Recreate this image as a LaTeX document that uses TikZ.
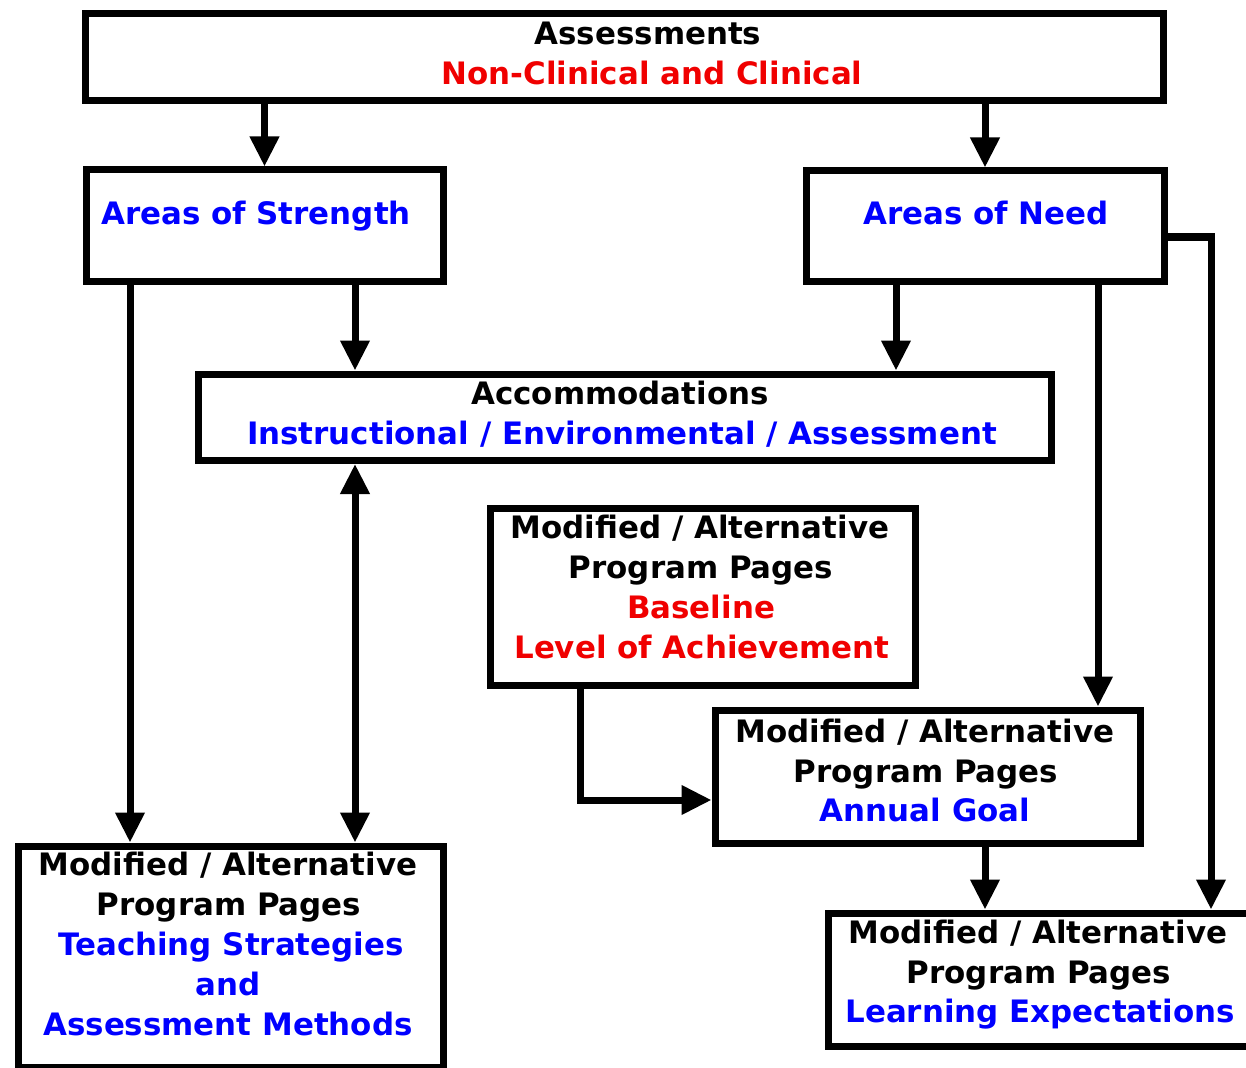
\documentclass[tikz,border=0pt]{standalone}
\usepackage{fontspec}
\setmainfont{DejaVu Sans}
\usetikzlibrary{arrows.meta}
\definecolor{tblue}{RGB}{0,0,255}
\definecolor{tred}{RGB}{240,0,0}
\begin{document}
\begin{tikzpicture}[x=1pt,y=-1pt,
  box/.style={draw, line width=7pt, inner sep=0pt, fill=white},
  txt/.style={anchor=base, inner sep=0pt, font=\fontsize{30.9}{40}\selectfont\bfseries},
  arr/.style={line width=7pt, -{Triangle[width=28pt,length=30pt]}},
  darr/.style={line width=7pt, {Triangle[width=28pt,length=30pt]}-{Triangle[width=28pt,length=30pt]}}]
\useasboundingbox (0,0) rectangle (1246,1067);
\fill[white] (0,0) rectangle (1246,1067);
\clip (0,0) rectangle (1246,1067);

% boxes
\node[box, minimum width=1077.5pt, minimum height=87pt] (A) at (624.25,57) {};
\node[box, minimum width=357pt, minimum height=111pt] (S) at (264.5,225.5) {};
\node[box, minimum width=358pt, minimum height=110pt] (N) at (985,226) {};
\node[box, minimum width=853.5pt, minimum height=86.5pt] (C) at (624.75,417.25) {};
\node[box, minimum width=425pt, minimum height=177pt] (B) at (702.5,596.5) {};
\node[box, minimum width=425pt, minimum height=133pt] (G) at (927.5,776.5) {};
\node[box, minimum width=425pt, minimum height=221pt] (T) at (230.5,956.5) {};
\node[box, minimum width=434pt, minimum height=133pt] (L) at (1045,979.5) {};

% helper coordinates
\coordinate (xS) at (355,0);
\coordinate (xT) at (130,0);
\coordinate (xN) at (896,0);
\coordinate (xG) at (1098,0);
\coordinate (nR) at (1211,237);
\coordinate (bk) at (580,800);
\coordinate (xL) at (985,0);

% connectors
\draw[arr] (S.north |- A.south) -- (S.north);
\draw[arr] (N.north |- A.south) -- (N.north);
\draw[arr] (S.south -| xS) -- (C.north -| xS);
\draw[arr] (N.south -| xN) -- (C.north -| xN);
\draw[arr] (S.south -| xT) -- (T.north -| xT);
\draw[darr] (C.south -| xS) -- (T.north -| xS);
\draw[arr] (N.south -| xG) -- (G.north -| xG);
\draw[arr] (N.east |- nR) -- (nR) -- (L.north -| nR);
\draw[arr] (B.south -| bk) -- (bk) -- (G.west |- bk);
\draw[arr] (G.south -| xL) -- (L.north -| xL);

% texts
\node[txt] (tA1) at (648,45) {Assessments};
\node[txt, text=tred] (tA2) at (652,85) {Non-Clinical and Clinical};
\node[txt, text=tblue] (tS) at (256,225) {Areas of Strength};
\node[txt, text=tblue] (tN) at (986,225) {Areas of Need};
\node[txt] (tC1) at (620,404) {Accommodations};
\node[txt, text=tblue] (tC2) at (622,444) {Instructional / Environmental / Assessment};
\node[txt] (tB1) at (700,538) {Modified / Alternative};
\node[txt] (tB2) at (701,578) {Program Pages};
\node[txt, text=tred] (tB3) at (701,618) {Baseline};
\node[txt, text=tred] (tB4) at (702,658) {Level of Achievement};
\node[txt] (tG1) at (925,742) {Modified / Alternative};
\node[txt] (tG2) at (926,782) {Program Pages};
\node[txt, text=tblue] (tG3) at (925,821) {Annual Goal};
\node[txt] (tT1) at (228,875) {Modified / Alternative};
\node[txt] (tT2) at (229,915) {Program Pages};
\node[txt, text=tblue] (tT3) at (231,955) {Teaching Strategies};
\node[txt, text=tblue] (tT4) at (228,995) {and};
\node[txt, text=tblue] (tT5) at (228,1035) {Assessment Methods};
\node[txt] (tL1) at (1038,943) {Modified / Alternative};
\node[txt] (tL2) at (1039,983) {Program Pages};
\node[txt, text=tblue] (tL3) at (1040,1022) {Learning Expectations};
\end{tikzpicture}
\end{document}
